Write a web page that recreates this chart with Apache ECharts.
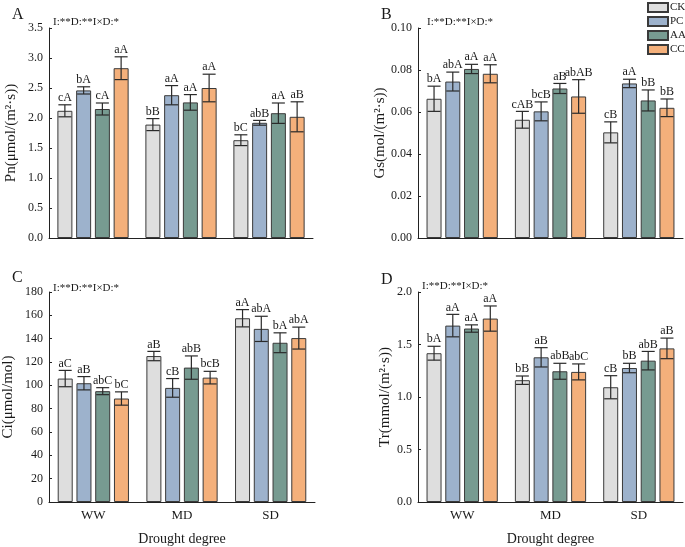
<!DOCTYPE html>
<html>
<head>
<meta charset="utf-8">
<script src="https://cdn.jsdelivr.net/npm/echarts@6/dist/echarts.min.js"></script>
<style>html,body{margin:0;padding:0;background:#fff;}#c{width:685px;height:547px;}</style>
</head>
<body>
<div id="c"></div>
<script>
const categories = ['WW', 'MD', 'SD'];
const treatments = ['CK', 'PC', 'AA', 'CC'];
const colors = ['#DEDEDE', '#9DB2CC', '#779B91', '#F4B07B'];

// rows: CK, PC, AA, CC ; cols: WW, MD, SD
const pnMean = [[2.12, 1.89, 1.63], [2.46, 2.38, 1.92], [2.15, 2.26, 2.08], [2.83, 2.50, 2.02]];
const pnErr  = [[0.10, 0.10, 0.09], [0.06, 0.16, 0.04], [0.10, 0.13, 0.17], [0.19, 0.23, 0.25]];
const pnSig  = [['cA', 'bB', 'bC'], ['bA', 'aA', 'abB'], ['cA', 'aA', 'aA'], ['aA', 'aA', 'aB']];

const gsMean = [[0.0663, 0.0563, 0.0503], [0.0745, 0.0603, 0.0736], [0.0805, 0.0712, 0.0655], [0.0782, 0.0674, 0.0620]];
const gsErr  = [[0.0060, 0.0040, 0.0050], [0.0045, 0.0045, 0.0020], [0.0022, 0.0024, 0.0050], [0.0043, 0.0080, 0.0042]];
const gsSig  = [['bA', 'cAB', 'cB'], ['abA', 'bcB', 'aA'], ['aA', 'aB', 'bB'], ['aA', 'abAB', 'bB']];

const ciMean = [[105.8, 125.1, 157.5], [101.8, 97.8, 148.4], [95.0, 115.2, 136.5], [88.7, 106.6, 140.5]];
const ciErr  = [[7.0, 4.0, 7.4], [5.7, 8.0, 10.8], [3.0, 10.0, 8.5], [5.7, 5.4, 9.4]];
const ciSig  = [['aC', 'aB', 'aA'], ['aB', 'cB', 'abA'], ['abC', 'abB', 'bA'], ['bC', 'bcB', 'abA']];

const trMean = [[1.417, 1.160, 1.093], [1.680, 1.378, 1.276], [1.652, 1.245, 1.346], [1.747, 1.239, 1.463]];
const trErr  = [[0.066, 0.040, 0.110], [0.107, 0.092, 0.045], [0.035, 0.076, 0.088], [0.120, 0.076, 0.098]];
const trSig  = [['bA', 'bB', 'cB'], ['aA', 'aB', 'bB'], ['aA', 'abB', 'abB'], ['aA', 'abC', 'aB']];

const yTitles = ['Pn(μmol/(m²·s))', 'Gs(mol/(m²·s))', 'Ci(μmol/mol)', 'Tr(mmol/(m²·s))'];
const yMax = [3.5, 0.10, 180, 2.0];
const yInterval = [0.5, 0.02, 20, 0.5];
const yDecimals = [1, 2, 0, 1];
const panelLetters = ['A', 'B', 'C', 'D'];
const annotation = 'I:**D:**I×D:*';
const xTitle = 'Drought degree';

const panels = [
  {mean: pnMean, err: pnErr, sig: pnSig},
  {mean: gsMean, err: gsErr, sig: gsSig},
  {mean: ciMean, err: ciErr, sig: ciSig},
  {mean: trMean, err: trErr, sig: trSig}
];

const FONT = '"Liberation Serif", "Times New Roman", serif';
const TXT = '#1a1a1a';
const BAR_W = 15;
const BAR_GAP = 0.25;

const grids = [
  {left: 49, top: 28, width: 264, height: 210},
  {left: 418, top: 28, width: 265, height: 210},
  {left: 49, top: 292, width: 266, height: 211},
  {left: 418, top: 292, width: 265, height: 211}
];
const nameGaps = [30, 28, 33, 25];

const xAxes = [], yAxes = [], series = [];
grids.forEach((g, p) => {
  const bottomRow = p >= 2;
  xAxes.push({
    type: 'category', gridIndex: p, data: categories,
    axisLine: {lineStyle: {color: '#222', width: 1}},
    axisTick: {inside: true, length: 3, lineStyle: {color: '#222'}},
    axisLabel: {show: bottomRow, fontFamily: FONT, fontSize: 13, color: TXT, margin: 7},
    name: bottomRow ? xTitle : '', nameLocation: 'middle', nameGap: 30,
    nameTextStyle: {fontFamily: FONT, fontSize: 14, color: TXT}
  });
  yAxes.push({
    type: 'value', gridIndex: p, min: 0, max: yMax[p], interval: yInterval[p],
    splitLine: {show: false},
    axisLine: {show: true, lineStyle: {color: '#222', width: 1}},
    axisTick: {show: true, inside: true, length: 3, lineStyle: {color: '#222'}},
    axisLabel: {fontFamily: FONT, fontSize: 12, color: TXT, margin: 6,
      formatter: v => v.toFixed(yDecimals[p])},
    name: yTitles[p], nameLocation: 'middle', nameGap: nameGaps[p],
    nameTextStyle: {fontFamily: FONT, fontSize: 15, color: TXT}
  });
  const d = panels[p];
  treatments.forEach((t, i) => {
    series.push({
      type: 'bar', name: t, xAxisIndex: p, yAxisIndex: p,
      barWidth: BAR_W, barGap: (BAR_GAP * 100) + '%',
      itemStyle: {color: colors[i], borderColor: '#3a3a3a', borderWidth: 1},
      data: d.mean[i], z: 2
    });
  });
  treatments.forEach((t, i) => {
    series.push({
      type: 'custom', xAxisIndex: p, yAxisIndex: p, z: 5, silent: true,
      data: categories.map((c, k) => [k, d.mean[i][k], d.err[i][k]]),
      renderItem: function (params, api) {
        const k = api.value(0), m = api.value(1), e = api.value(2);
        const step = BAR_W * (1 + BAR_GAP);
        const total = 4 * BAR_W + 3 * BAR_W * BAR_GAP;
        const c = api.coord([k, m]);
        const x = c[0] - total / 2 + i * step + BAR_W / 2;
        const yt = api.coord([k, m + e])[1];
        const yb = api.coord([k, m - e])[1];
        const hw = 6.5;
        const st = {stroke: '#2a2a2a', lineWidth: 1.2};
        return {type: 'group', children: [
          {type: 'line', shape: {x1: x, y1: yt, x2: x, y2: yb}, style: st},
          {type: 'line', shape: {x1: x - hw, y1: yt, x2: x + hw, y2: yt}, style: st},
          {type: 'line', shape: {x1: x - hw, y1: yb, x2: x + hw, y2: yb}, style: st},
          {type: 'text', x: x, y: yt - 1, style: {text: d.sig[i][k], fontFamily: FONT, fontSize: 12,
            fill: TXT, align: 'center', verticalAlign: 'bottom'}}
        ]};
      }
    });
  });
});

const graphics = [];
const letterPos = [[12, 7], [381, 7], [12, 270], [381, 272]];
const annPos = [[53, 22], [427, 22], [53, 288], [422, 286]];
letterPos.forEach((pos, p) => {
  graphics.push({type: 'text', left: pos[0], top: pos[1],
    style: {text: panelLetters[p], fontFamily: FONT, fontSize: 16, fill: TXT}});
  graphics.push({type: 'text', x: annPos[p][0], y: annPos[p][1],
    style: {text: annotation, fontFamily: FONT, fontSize: 11, fill: TXT, verticalAlign: 'middle'}});
});

const chart = echarts.init(document.getElementById('c'), null, {renderer: 'canvas'});
chart.setOption({
  backgroundColor: '#fff',
  animation: false,
  grid: grids,
  xAxis: xAxes,
  yAxis: yAxes,
  legend: {
    data: treatments, orient: 'vertical', left: 647, top: 2, padding: 0,
    itemWidth: 20, itemHeight: 9, itemGap: 3,
    icon: 'rect',
    textStyle: {fontFamily: FONT, fontSize: 11, color: TXT, padding: [0, 0, 0, -3]}
  },
  graphic: graphics,
  series: series
});
</script>
</body>
</html>
